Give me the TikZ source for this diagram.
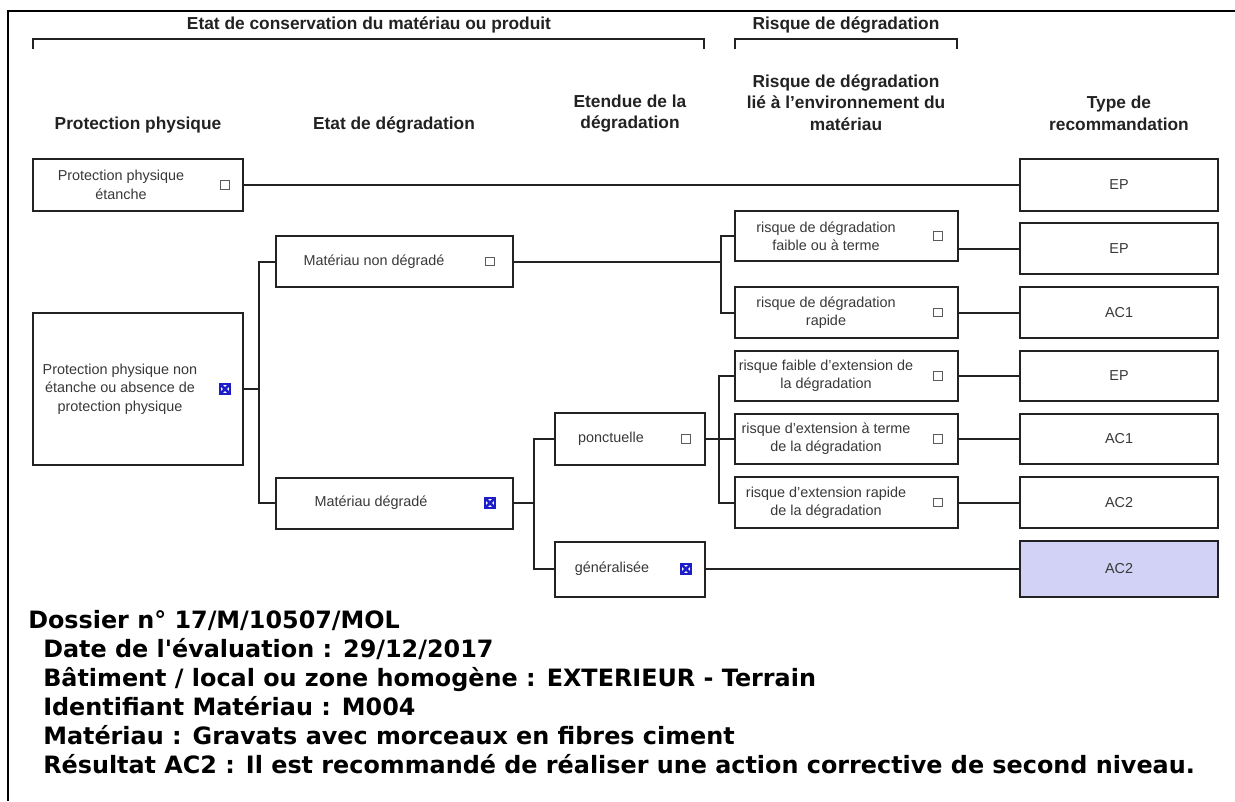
\documentclass[tikz,border=0pt]{standalone}
\usepackage{fontspec}
\setmainfont{Liberation Sans}
\newfontfamily\notefont{DejaVu Sans}
\usepackage{tikz}
\definecolor{ink}{HTML}{222222}
\definecolor{xblue}{HTML}{1E1EC8}
\definecolor{chosen}{HTML}{D2D2F7}
\definecolor{boxgray}{HTML}{5A5A5A}

\begin{document}
\begin{tikzpicture}[x=0.75pt,y=-0.75pt,
  frame/.style={line width=2.2pt,black},
  brace/.style={line width=1.4pt,ink},
  head/.style={font=\bfseries\fontsize{13}{16.2}\selectfont,align=center,text=ink,inner sep=0pt},
  cell/.style 2 args={draw=ink,line width=1.5pt,minimum width=#1*0.75pt,minimum height=#2*0.75pt,inner sep=0pt},
  lbl/.style={font=\fontsize{10.8}{13.75}\selectfont,align=center,text=ink!90,inner sep=0pt},
  tickbox/.style={draw=boxgray,line width=0.8pt,minimum size=6.5pt,inner sep=0pt},
  crossbox/.style={draw=xblue,line width=0.8pt,minimum size=7.5pt,inner sep=0pt,
    path picture={\draw[xblue,line width=2pt] (path picture bounding box.south west)--(path picture bounding box.north east)
      (path picture bounding box.north west)--(path picture bounding box.south east);}},
  wire/.style={line width=1.5pt,ink},
  note/.style={font=\notefont\bfseries\fontsize{17.9}{21}\selectfont,anchor=base west,inner sep=0pt}]
\useasboundingbox (0,0) rectangle (1235,801);
\draw[frame] (1235,11) -| (8,801);

% headers
\node[head,anchor=base] (hcons) at (369,29) {Etat de conservation du matériau ou produit};
\node[head,anchor=base] (hrisk) at (846,29) {Risque de dégradation};
\draw[brace] (33,49) |- (704,39) -- (704,49);
\draw[brace] (735,49) |- (957,39) -- (957,49);
\node[head,anchor=base] (hprot) at (138,129) {Protection physique};
\node[head,anchor=base] (hetat) at (394,129) {Etat de dégradation};
\node[head] (hext) at (630,113.5) {Etendue de la\\dégradation};
\node[head] (henv) at (846,102.5) {Risque de dégradation\\lié à l'environnement du\\matériau};
\node[head] (htype) at (1119,113.5) {Type de\\recommandation};

% protection physique
\node[cell={210}{52}] (ppE) at (138,185) {};
\node[lbl] (ppEt) at (121,185) {Protection physique\\étanche};
\node[tickbox] (ppEc) at (225,185) {};
\node[cell={210}{152}] (ppN) at (138,389) {};
\node[lbl] (ppNt) at (120,389) {Protection physique non\\étanche ou absence de\\protection physique};
\node[crossbox] (ppNc) at (225,389) {};

% etat de degradation
\node[cell={237}{51}] (mnd) at (394.5,261.5) {};
\node[lbl] (mndt) at (374,261.5) {Matériau non dégradé};
\node[tickbox] (mndc) at (490,261.5) {};
\node[cell={237}{51}] (md) at (394.5,503) {};
\node[lbl] (mdt) at (371,503) {Matériau dégradé};
\node[crossbox] (mdc) at (490,503) {};

% etendue
\node[cell={150}{52}] (pon) at (630,439) {};
\node[lbl] (pont) at (611,439) {ponctuelle};
\node[tickbox] (ponc) at (686,439) {};
\node[cell={150}{55}] (gen) at (630,569) {};
\node[lbl] (gent) at (612,569) {généralisée};
\node[crossbox] (genc) at (686,569) {};

% risque lie a l'environnement
\node[cell={223}{50}] (r1) at (846.5,236) {};
\node[lbl] (r1t) at (826,236) {risque de dégradation\\faible ou à terme};
\node[tickbox] (r1c) at (938,236) {};
\node[cell={223}{51}] (r2) at (846.5,312.5) {};
\node[lbl] (r2t) at (826,312.5) {risque de dégradation\\rapide};
\node[tickbox] (r2c) at (938,312.5) {};
\node[cell={223}{50}] (r3) at (846.5,376) {};
\node[lbl] (r3t) at (826,376) {risque faible d'extension de\\la dégradation};
\node[tickbox] (r3c) at (938,376) {};
\node[cell={223}{50}] (r4) at (846.5,439) {};
\node[lbl] (r4t) at (826,439) {risque d'extension à terme\\de la dégradation};
\node[tickbox] (r4c) at (938,439) {};
\node[cell={223}{51}] (r5) at (846.5,502.5) {};
\node[lbl] (r5t) at (826,502.5) {risque d'extension rapide\\de la dégradation};
\node[tickbox] (r5c) at (938,502.5) {};

% type de recommandation
\node[cell={198}{52}] (t0) at (1119,185) {};
\node[cell={198}{51}] (t1) at (1119,248.5) {};
\node[cell={198}{51}] (t2) at (1119,312.5) {};
\node[cell={198}{50}] (t3) at (1119,376) {};
\node[cell={198}{50}] (t4) at (1119,439) {};
\node[cell={198}{51}] (t5) at (1119,502.5) {};
\node[cell={198}{56},fill=chosen] (t6) at (1119,569) {};
\node[lbl] (t0t) at (t0) {EP};
\node[lbl] (t1t) at (t1) {EP};
\node[lbl] (t2t) at (t2) {AC1};
\node[lbl] (t3t) at (t3) {EP};
\node[lbl] (t4t) at (t4) {AC1};
\node[lbl] (t5t) at (t5) {AC2};
\node[lbl] (t6t) at (t6) {AC2};

% connectors
\coordinate (j1) at (259,389);
\coordinate (j2) at (534,503);
\coordinate (j3) at (721,261.5);
\coordinate (j4) at (719,439);
\draw[wire] (ppE.east) -- (t0.west);
\draw[wire] (ppN.east) -- (j1) (mnd.west) -| (j1) |- (md.west);
\draw[wire] (md.east) -- (j2) (pon.west) -| (j2) |- (gen.west);
\draw[wire] (mnd.east) -- (j3) (r1.west) -| (j3) |- (r2.west);
\draw[wire] (pon.east) -- (j4) -- (r4.west) (r3.west) -| (j4) |- (r5.west);
\draw[wire] (t1.west -| r1.east) -- (t1.west);
\draw[wire] (r2.east) -- (t2.west);
\draw[wire] (r3.east) -- (t3.west);
\draw[wire] (r4.east) -- (t4.west);
\draw[wire] (r5.east) -- (t5.west);
\draw[wire] (gen.east) -- (t6.west);

% dossier
\node[note] (n1) at (28,628) {Dossier n° 17/M/10507/MOL};
\node[note] (n2) at (43,657) {Date de l'évaluation : 29/12/2017};
\node[note] (n3) at (43,686) {Bâtiment / local ou zone homogène : EXTERIEUR - Terrain};
\node[note] (n4) at (43,715) {Identifiant Matériau : M004};
\node[note] (n5) at (43,744) {Matériau : Gravats avec morceaux en fibres ciment};
\node[note] (n6) at (43,773) {Résultat AC2 : Il est recommandé de réaliser une action corrective de second niveau.};
\end{tikzpicture}
\end{document}
